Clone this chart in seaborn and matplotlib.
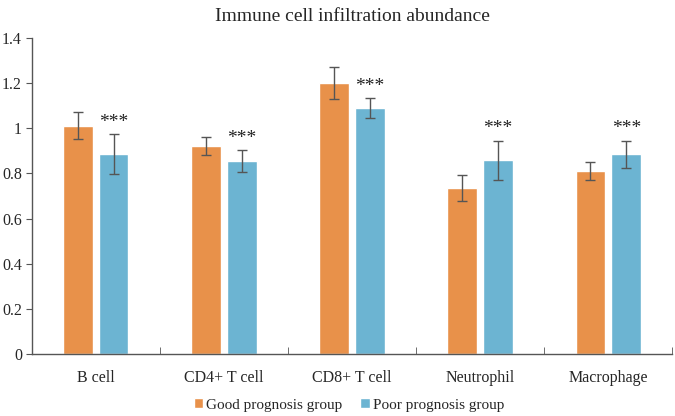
import numpy as np
import pandas as pd
import matplotlib
matplotlib.use('Agg')
import matplotlib.pyplot as plt
import seaborn as sns

# Data
cells = ['B cell', 'CD4+ T cell', 'CD8+ T cell', 'Neutrophil', 'Macrophage']
good_mean = [1.01, 0.92, 1.20, 0.735, 0.81]
good_err = [0.06, 0.04, 0.07, 0.058, 0.04]
poor_mean = [0.885, 0.855, 1.09, 0.857, 0.885]
poor_err = [0.088, 0.047, 0.043, 0.087, 0.06]
groups = ['Good prognosis group', 'Poor prognosis group']
signif = ['***', '***', '***', '***', '***']

df = pd.DataFrame({
    'Cell': cells * 2,
    'Group': [groups[0]] * len(cells) + [groups[1]] * len(cells),
    'Value': good_mean + poor_mean,
    'Err': good_err + poor_err,
})

sns.set_style('white')
plt.rcParams['font.family'] = ['Liberation Serif', 'DejaVu Serif']

fig = plt.figure(figsize=(6.75, 4.16), dpi=100)
ax = fig.add_axes([0.047, 0.149, 0.949, 0.760])

palette = {groups[0]: '#E8914A', groups[1]: '#6CB4D2'}
sns.barplot(data=df, x='Cell', y='Value', hue='Group', palette=palette,
            width=0.56, gap=0.18, errorbar=None, saturation=1, ax=ax)

# error bars + significance marks on bar centres
for container, errs, grp in zip(ax.containers, [good_err, poor_err], groups):
    xs = [p.get_x() + p.get_width() / 2 for p in container]
    ys = [p.get_height() for p in container]
    ax.errorbar(xs, ys, yerr=errs, fmt='none', ecolor='#555555',
                elinewidth=1, capsize=3.5, capthick=1)
    if grp == groups[1]:
        for x, y, e, s in zip(xs, ys, errs, signif):
            ax.text(x, y + e + 0.015, s, ha='center', va='bottom',
                    fontsize=14, color='#222222')

ax.set_ylim(0, 1.4)
ax.set_xlim(-0.5, 4.5)
ax.set_yticks(np.arange(0, 1.41, 0.2))
ax.set_yticklabels([f'{v:g}' for v in np.arange(0, 1.41, 0.2)])
ax.set_xlabel('')
ax.set_ylabel('')
ax.set_title('Immune cell infiltration abundance', fontsize=14, pad=12)

for side in ['top', 'right']:
    ax.spines[side].set_visible(False)
for side in ['left', 'bottom']:
    ax.spines[side].set_color('#555555')
    ax.spines[side].set_linewidth(1)

ax.tick_params(axis='y', left=True, length=4, color='#555555',
               labelsize=11.5, pad=3)
ax.tick_params(axis='x', bottom=False, labelsize=11.5, pad=8)
ax.set_xticks(np.arange(0.5, 4.6, 1), minor=True)
ax.tick_params(axis='x', which='minor', bottom=True, length=5,
               color='#555555', direction='in')

ax.legend(title=None, loc='center', bbox_to_anchor=(0.495, -0.161),
          ncol=2, frameon=False, fontsize=11, handlelength=0.6,
          handleheight=0.6, handletextpad=0.2, columnspacing=1.2)

fig.savefig('out.png', dpi=100)
